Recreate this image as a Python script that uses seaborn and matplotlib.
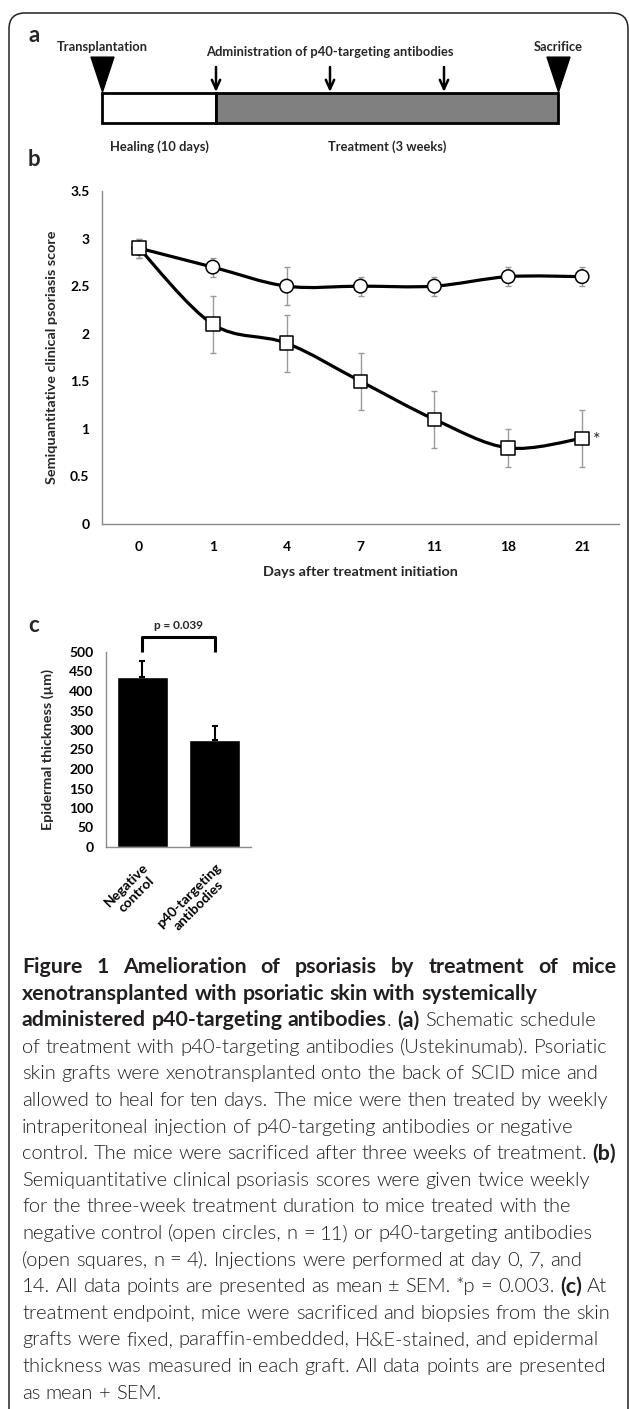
import matplotlib
matplotlib.use("Agg")
import numpy as np
import pandas as pd
import seaborn as sns
import matplotlib.pyplot as plt
from matplotlib.path import Path
from matplotlib.patches import PathPatch, FancyBboxPatch
from matplotlib.transforms import ScaledTranslation

# ---- panel a: schematic schedule (event units, not to scale) ----
tri_events = [0, 4]
tri_labels = ["Transplantation", "Sacrifice"]
injection_events = [1, 2, 3]
injection_label = "Administration of p40-targeting antibodies"
phase_start = [0, 1]
phase_len = [1, 3]
phase_labels = ["Healing (10 days)", "Treatment (3 weeks)"]
phase_colors = ["white", "#808080"]

# ---- panel b: clinical score ----
days = ["0", "1", "4", "7", "11", "18", "21"]
ctrl_mean = [2.9, 2.7, 2.5, 2.5, 2.5, 2.6, 2.6]
ctrl_sem = [0.1, 0.1, 0.2, 0.1, 0.1, 0.1, 0.1]
p40_mean = [2.9, 2.1, 1.9, 1.5, 1.1, 0.8, 0.9]
p40_sem = [0.1, 0.3, 0.3, 0.3, 0.3, 0.2, 0.3]

# ---- panel c: epidermal thickness ----
groups = ["Negative\ncontrol", "p40-targeting\nantibodies"]
thickness = [437, 274]
thickness_sem = [39, 37]
p_text = "p = 0.039"

caption_lines = [
    "§Figure 1 Amelioration of psoriasis by treatment of mice§",
    "§xenotransplanted with psoriatic skin with systemically§",
    "§administered p40-targeting antibodies§. §(a)§ Schematic schedule",
    "of treatment with p40-targeting antibodies (Ustekinumab). Psoriatic",
    "skin grafts were xenotransplanted onto the back of SCID mice and",
    "allowed to heal for ten days. The mice were then treated by weekly",
    "intraperitoneal injection of p40-targeting antibodies or negative",
    "control. The mice were sacrificed after three weeks of treatment. §(b)§",
    "Semiquantitative clinical psoriasis scores were given twice weekly",
    "for the three-week treatment duration to mice treated with the",
    "negative control (open circles, n = 11) or p40-targeting antibodies",
    "(open squares, n = 4). Injections were performed at day 0, 7, and",
    "14. All data points are presented as mean ± SEM. *p = 0.003. §(c)§ At",
    "treatment endpoint, mice were sacrificed and biopsies from the skin",
    "grafts were fixed, paraffin-embedded, H&E-stained, and epidermal",
    "thickness was measured in each graft. All data points are presented",
    "as mean + SEM.",
]

sns.set_theme(style="white")
plt.rcParams["font.family"] = ["Lato", "DejaVu Sans"]
plt.rcParams["font.weight"] = "bold"
plt.rcParams["axes.labelweight"] = "bold"

W, H = 629, 1409
fig = plt.figure(figsize=(W / 100, H / 100), dpi=100)
AXIS_GREY = "#8a8a8a"
TICK_SIZE = 10
LABEL_SIZE = 10.4


def px_axes(x0, y0, x1, y1, **kw):
    return fig.add_axes([x0 / W, 1 - y1 / H, (x1 - x0) / W, (y1 - y0) / H], **kw)


# overlay in pixel units for frame, panel letters and caption
ov = px_axes(0, 0, W, H)
ov.set_xlim(0, W)
ov.set_ylim(H, 0)
ov.axis("off")
ov.add_patch(FancyBboxPatch((9, 13), 619, 1440, boxstyle="round,pad=0,rounding_size=16",
                            fill=False, lw=1.1, ec="#222222"))
for letter, ly in zip("abc", [35, 159, 625]):
    ov.text(34, ly, letter, fontsize=16, fontweight="bold", ha="center", va="center")

# ---------------- panel a ----------------
ax_a = px_axes(102, 30, 558, 160)
ax_a.set_xlim(0, 4)
ax_a.set_ylim(160, 30)
ax_a.axis("off")
ax_a.barh(y=108, width=phase_len, left=phase_start, height=30, color=phase_colors,
          edgecolor="black", linewidth=2, clip_on=False)
tri = Path([(-0.66, 1), (0.66, 1), (0, -1), (-0.66, 1)],
           [Path.MOVETO, Path.LINETO, Path.LINETO, Path.CLOSEPOLY])
ax_a.plot(tri_events, [74] * len(tri_events), ls="none", marker=tri, ms=25, color="black",
          clip_on=False)
for ev, lab in zip(tri_events, tri_labels):
    ax_a.text(ev, 47, lab, fontsize=9.3, ha="center", va="center")
for ev in injection_events:
    ax_a.annotate("", xy=(ev, 92), xytext=(ev, 67),
                  arrowprops=dict(arrowstyle="->,head_length=0.55,head_width=0.25",
                                  lw=1.8, color="black", shrinkA=0, shrinkB=0))
ax_a.text(np.mean(injection_events), 52, injection_label, fontsize=9.3, ha="center",
          va="center")
for st, ln, lab in zip(phase_start, phase_len, phase_labels):
    ax_a.text(st + ln / 2, 147, lab, fontsize=9.3, ha="center", va="center")

# ---------------- panel b ----------------
ax_b = px_axes(102, 191, 619, 524)
pos = np.arange(len(days))
df_b = pd.DataFrame({
    "pos": np.concatenate([pos, pos]),
    "score": ctrl_mean + p40_mean,
    "sem": ctrl_sem + p40_sem,
    "group": ["control"] * len(days) + ["p40"] * len(days),
})


def smooth_path(xs, ys):
    p = np.column_stack([xs, ys]).astype(float)
    ext = np.vstack([p[0], p, p[-1]])
    verts, codes = [p[0]], [Path.MOVETO]
    for i in range(len(p) - 1):
        p0, p1, p2, p3 = ext[i], ext[i + 1], ext[i + 2], ext[i + 3]
        verts += [p1 + (p2 - p0) / 6, p2 - (p3 - p1) / 6, p2]
        codes += [Path.CURVE4] * 3
    return Path(verts, codes)


for name, sub in df_b.groupby("group"):
    ax_b.add_patch(PathPatch(smooth_path(sub["pos"], sub["score"]), fill=False,
                             lw=2.3, ec="black", zorder=2))
    ax_b.errorbar(sub["pos"], sub["score"], yerr=sub["sem"], fmt="none",
                  ecolor="#9a9a9a", elinewidth=1.0, capsize=2.5, capthick=1.0, zorder=1)
sns.scatterplot(data=df_b, x="pos", y="score", style="group",
                markers={"control": "o", "p40": "s"}, s=95, color="white",
                edgecolor="black", linewidth=1.1, legend=False, ax=ax_b, zorder=4)
ax_b.annotate("*", xy=(pos[-1], p40_mean[-1]), xytext=(8, -1), textcoords="offset points",
              fontsize=13, fontweight="normal", va="center", ha="left")
ax_b.set_xlim(-0.5, len(days) - 0.5)
ax_b.set_ylim(0, 3.5)
ax_b.set_xticks(pos)
ax_b.set_xticklabels(days)
ax_b.set_yticks(np.arange(0, 3.51, 0.5))
ax_b.set_yticklabels([f"{v:g}" for v in np.arange(0, 3.51, 0.5)])
ax_b.set_xlabel("Days after treatment initiation", fontsize=LABEL_SIZE)
ax_b.set_ylabel("Semiquantitative clinical psoriasis score", fontsize=LABEL_SIZE)
ax_b.xaxis.set_label_coords(0.5, -0.125)
ax_b.yaxis.set_label_coords(-0.085, 0.5)

# ---------------- panel c ----------------
ax_c = px_axes(106, 652, 251, 847)
sns.barplot(x=groups, y=thickness, color="black", width=0.7, errorbar=None, ax=ax_c,
            saturation=1)
ax_c.errorbar(np.arange(len(groups)), thickness, yerr=[[0] * len(groups), thickness_sem],
              fmt="none", ecolor="black", elinewidth=1.5, capsize=2.5, capthick=1.5)
ax_c.set_xlim(-0.5, len(groups) - 0.5)
ax_c.set_ylim(0, 500)
ax_c.set_yticks(np.arange(0, 501, 50))
ax_c.set_ylabel("Epidermal thickness (µm)", fontsize=LABEL_SIZE)
ax_c.yaxis.set_label_coords(-0.36, 0.5)
ax_c.set_xticks(np.arange(len(groups) + 1) - 0.5, minor=True)
for lab in ax_c.get_xticklabels():
    lab.set_rotation(45)
    lab.set_ha("right")
    lab.set_va("top")
    lab.set_rotation_mode("anchor")
    lab.set_multialignment("center")
    lab.set_transform(lab.get_transform() + ScaledTranslation(0.1, 0, fig.dpi_scale_trans))
# significance bracket
ax_c.plot([0, 0, 1, 1], [500, 538, 538, 500], color="black", lw=2.2, clip_on=False,
          solid_capstyle="butt")
ax_c.text(0.5, 568, p_text, fontsize=8.5, ha="center", va="center")

for ax in (ax_b, ax_c):
    sns.despine(ax=ax)
    for side in ("left", "bottom"):
        ax.spines[side].set_color(AXIS_GREY)
        ax.spines[side].set_linewidth(1)
    ax.tick_params(axis="both", which="both", direction="out", colors=AXIS_GREY,
                   labelcolor="black", labelsize=TICK_SIZE, width=1)
    ax.tick_params(axis="y", length=4, pad=5)
ax_b.tick_params(axis="x", length=4, pad=8)
ax_c.tick_params(axis="x", which="minor", length=5)
ax_c.tick_params(axis="x", which="major", length=0, pad=10)
for ax in (ax_b, ax_c):
    for lab in ax.get_xticklabels() + ax.get_yticklabels():
        lab.set_fontweight("bold")

# ---------------- caption (left aligned, title line justified) ----------------
fig.canvas.draw()
renderer = fig.canvas.get_renderer()
base_size, cap_color = 13, "#231f20"
bold_scale = 1.06
cap_left, cap_right = 22, 617
first_baseline, line_step = 973, 26.6


def parse_words(line):
    words, bold = [], False
    for token in line.split(" "):
        segs = []
        for k, part in enumerate(token.split("§")):
            if k > 0:
                bold = not bold
            if part:
                segs.append((part, bold))
        if segs:
            words.append(segs)
    return words


lines_art = []
for i, line in enumerate(caption_lines):
    y = first_baseline + i * line_step
    words = []
    for segs in parse_words(line):
        words.append([(ov.text(0, y, text, fontsize=base_size, color=cap_color,
                               va="baseline", ha="left", fontweight=700 if bold else 300),
                       bold_scale if bold else 1.0)
                      for text, bold in segs])
    lines_art.append(words)


def word_widths(words):
    return [[t.get_window_extent(renderer).width for t, _ in w] for w in words]


# scale the caption so the fullest body line just fits the column
natural = []
for words in lines_art[3:]:
    ww = word_widths(words)
    natural.append(sum(map(sum, ww)) + 0.27 * base_size * 1.39 * (len(words) - 1))
cap_size = base_size * (cap_right - cap_left) / max(natural) * 0.995
space_px = 0.27 * cap_size * 1.39

for i, words in enumerate(lines_art):
    for w in words:
        for t, k in w:
            t.set_fontsize(cap_size * k)
    ww = word_widths(words)
    total = sum(map(sum, ww))
    gap = (cap_right - cap_left - total) / (len(words) - 1) if i == 0 else space_px
    x = cap_left
    for w, widths in zip(words, ww):
        off = 0
        for (t, _), tw in zip(w, widths):
            t.set_x(x + off)
            off += tw
        x += off + gap

fig.savefig("out.png", dpi=100)
